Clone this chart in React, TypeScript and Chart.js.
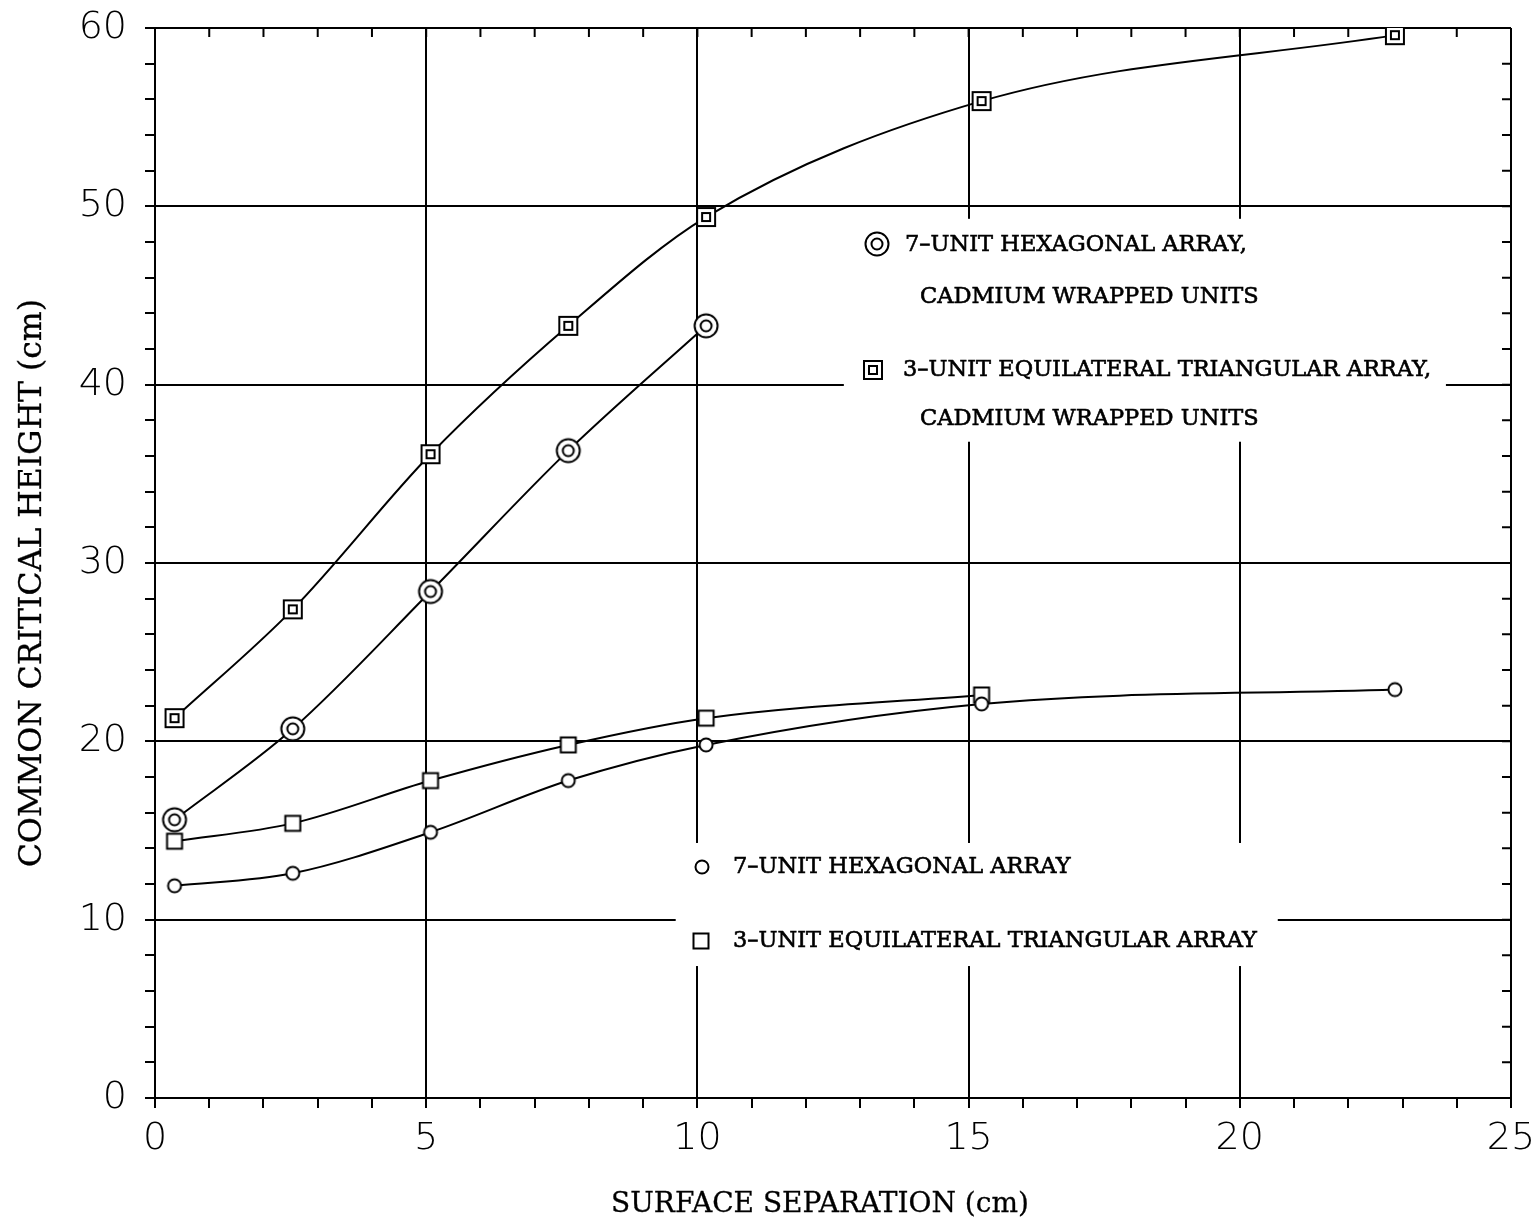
import React, { useEffect, useRef } from "react";
import { Chart, registerables } from "chart.js";

Chart.register(...registerables);

// ---- data ----
const separations = [0.36, 2.54, 5.08, 7.62, 10.16, 15.24, 22.86];
const hexCadmium = [15.6, 20.7, 28.4, 36.3, 43.3];
const triCadmium = [21.3, 27.4, 36.1, 43.3, 49.4, 55.9, 59.6];
const hexBare = [11.9, 12.6, 14.9, 17.8, 19.8, 22.1, 22.9];
const triBare = [14.4, 15.4, 17.8, 19.8, 21.3, 22.6];

const seriesLabels = [
  ["7\u2013UNIT HEXAGONAL ARRAY,", "CADMIUM WRAPPED UNITS"],
  ["3\u2013UNIT EQUILATERAL TRIANGULAR ARRAY,", "CADMIUM WRAPPED UNITS"],
  ["7\u2013UNIT HEXAGONAL ARRAY"],
  ["3\u2013UNIT EQUILATERAL TRIANGULAR ARRAY"],
];

const xTitle = "SURFACE SEPARATION (cm)";
const yTitle = "COMMON CRITICAL HEIGHT (cm)";
const xMin = 0, xMax = 25, yMin = 0, yMax = 60;

function pts(vals: number[]) {
  return vals.map((v, i) => ({ x: separations[i], y: v }));
}

function mk(size: number, draw: (g: CanvasRenderingContext2D, c: number) => void) {
  const cv = document.createElement("canvas");
  cv.width = size;
  cv.height = size;
  const g = cv.getContext("2d")!;
  g.strokeStyle = "#000";
  g.fillStyle = "#fff";
  g.lineWidth = 2;
  draw(g, size / 2);
  return cv;
}

export default function App() {
  const ref = useRef<HTMLCanvasElement | null>(null);

  useEffect(() => {
    document.body.style.margin = "0";
    const canvas = ref.current!;

    const dblCircle = mk(28, (g, c) => {
      g.beginPath(); g.arc(c, c, 11.5, 0, Math.PI * 2); g.fill(); g.stroke();
      g.beginPath(); g.arc(c, c, 5.5, 0, Math.PI * 2); g.stroke();
    });
    const dblSquare = mk(24, (g, c) => {
      g.fillRect(c - 9, c - 9, 18, 18); g.strokeRect(c - 9, c - 9, 18, 18);
      g.strokeRect(c - 4, c - 4, 8, 8);
    });
    const circle = mk(18, (g, c) => {
      g.beginPath(); g.arc(c, c, 6.5, 0, Math.PI * 2); g.fill(); g.stroke();
    });
    const square = mk(20, (g, c) => {
      g.fillRect(c - 7.5, c - 7.5, 15, 15); g.strokeRect(c - 7.5, c - 7.5, 15, 15);
    });
    const markers = [dblCircle, dblSquare, circle, square];

    const serif = '"DejaVu Serif", serif';

    const txt = (ctx: CanvasRenderingContext2D, s: string, x: number, y: number) => {
      ctx.fillText(s, x, y);
      ctx.strokeText(s, x, y);
    };

    const deco = {
      id: "deco",
      beforeDatasetsDraw(chart: any) {
        const { ctx, scales } = chart;
        const xs = scales.x, ys = scales.y;
        ctx.save();
        ctx.fillStyle = "#fff";
        // gaps in grid behind the legend blocks
        const rect = (x0: number, x1: number, y0: number, y1: number) => {
          const px0 = xs.getPixelForValue(x0), px1 = xs.getPixelForValue(x1);
          const py0 = ys.getPixelForValue(y1), py1 = ys.getPixelForValue(y0);
          ctx.fillRect(px0, py0, px1 - px0, py1 - py0);
        };
        rect(12.7, 23.8, 36.8, 49.3);
        rect(9.6, 20.7, 7.4, 14.3);
        // inward ticks on top and right edges
        ctx.strokeStyle = "#000";
        ctx.lineWidth = 2;
        const a = chart.chartArea;
        ctx.beginPath();
        for (let v = xMin + 1; v < xMax; v++) {
          const px = xs.getPixelForValue(v);
          ctx.moveTo(px, a.top);
          ctx.lineTo(px, a.top + 9);
        }
        for (let v = yMin + 2; v < yMax; v += 2) {
          const py = ys.getPixelForValue(v);
          ctx.moveTo(a.right, py);
          ctx.lineTo(a.right - 9, py);
        }
        ctx.stroke();
        ctx.restore();
      },
      afterDatasetsDraw(chart: any) {
        const { ctx } = chart;
        ctx.save();
        ctx.fillStyle = "#000";
        ctx.strokeStyle = "#000";
        ctx.lineWidth = 0.6;
        ctx.textBaseline = "middle";
        ctx.textAlign = "left";
        ctx.font = `22.5px ${serif}`;
        // upper legend
        ctx.drawImage(markers[0], 877 - 14, 244 - 14);
        txt(ctx, seriesLabels[0][0], 905, 245);
        txt(ctx, seriesLabels[0][1], 920, 297);
        ctx.drawImage(markers[1], 873 - 12, 370 - 12);
        txt(ctx, seriesLabels[1][0], 903, 370);
        txt(ctx, seriesLabels[1][1], 920, 419);
        // lower legend
        ctx.drawImage(markers[2], 702 - 9, 867 - 9);
        txt(ctx, seriesLabels[2][0], 733, 867);
        ctx.drawImage(markers[3], 701 - 10, 941 - 10);
        txt(ctx, seriesLabels[3][0], 733, 941);
        // axis titles
        ctx.lineWidth = 0.3;
        ctx.font = `28px ${serif}`;
        ctx.textAlign = "center";
        txt(ctx, xTitle, 820, 1205);
        ctx.font = `31.5px ${serif}`;
        ctx.translate(33, 583);
        ctx.rotate(-Math.PI / 2);
        txt(ctx, yTitle, 0, 0);
        ctx.restore();
      },
    };

    const common = {
      borderColor: "#000",
      borderWidth: 2,
      cubicInterpolationMode: "monotone",
      pointRadius: 10,
      pointHoverRadius: 10,
    };

    const tickFont = { family: '"DejaVu Sans", sans-serif', size: 38, weight: "200" };

    const chart = new Chart(canvas, {
      type: "line",
      data: {
        datasets: [
          { ...common, label: seriesLabels[0].join(" "), data: pts(hexCadmium), pointStyle: dblCircle },
          { ...common, label: seriesLabels[1].join(" "), data: pts(triCadmium), pointStyle: dblSquare },
          { ...common, label: seriesLabels[2].join(" "), data: pts(hexBare), pointStyle: circle },
          { ...common, label: seriesLabels[3].join(" "), data: pts(triBare), pointStyle: square },
        ],
      },
      options: {
        animation: false,
        responsive: false,
        devicePixelRatio: 1,
        events: [],
        layout: { padding: { left: 0, top: 28, right: 21, bottom: 0 } },
        plugins: { legend: { display: false }, tooltip: { enabled: false } },
        scales: {
          x: {
            type: "linear",
            min: xMin,
            max: xMax,
            afterFit: (s: any) => {
              s.height = 126;
              s.paddingLeft = 0;
              s.paddingRight = 0;
            },
            afterBuildTicks: (s: any) => {
              const t = [];
              for (let v = xMin; v <= xMax; v++) t.push({ value: v });
              s.ticks = t;
            },
            ticks: {
              autoSkip: false,
              maxRotation: 0,
              padding: 8,
              color: "#000",
              font: tickFont,
              callback: (v: any) => (Number(v) % 5 === 0 ? String(v) : ""),
            },
            grid: {
              color: (c: any) => (c.tick && c.tick.value % 5 === 0 ? "#000" : "rgba(0,0,0,0)"),
              lineWidth: 2,
              tickColor: "#000",
              tickWidth: 2,
              tickLength: 10,
            },
            border: { display: true, color: "#000", width: 2 },
          },
          y: {
            type: "linear",
            min: yMin,
            max: yMax,
            afterFit: (s: any) => {
              s.width = 155;
              s.paddingTop = 0;
              s.paddingBottom = 0;
            },
            afterBuildTicks: (s: any) => {
              const t = [];
              for (let v = yMin; v <= yMax; v += 2) t.push({ value: v });
              s.ticks = t;
            },
            ticks: {
              autoSkip: false,
              padding: 18,
              color: "#000",
              font: tickFont,
              callback: (v: any) => (Number(v) % 10 === 0 ? String(v) : ""),
            },
            grid: {
              color: (c: any) => (c.tick && c.tick.value % 10 === 0 ? "#000" : "rgba(0,0,0,0)"),
              lineWidth: 2,
              tickColor: "#000",
              tickWidth: 2,
              tickLength: 10,
            },
            border: { display: true, color: "#000", width: 2 },
          },
        },
      },
      plugins: [deco],
    } as any);

    return () => chart.destroy();
  }, []);

  return <canvas ref={ref} width={1532} height={1224} style={{ display: "block" }} />;
}
